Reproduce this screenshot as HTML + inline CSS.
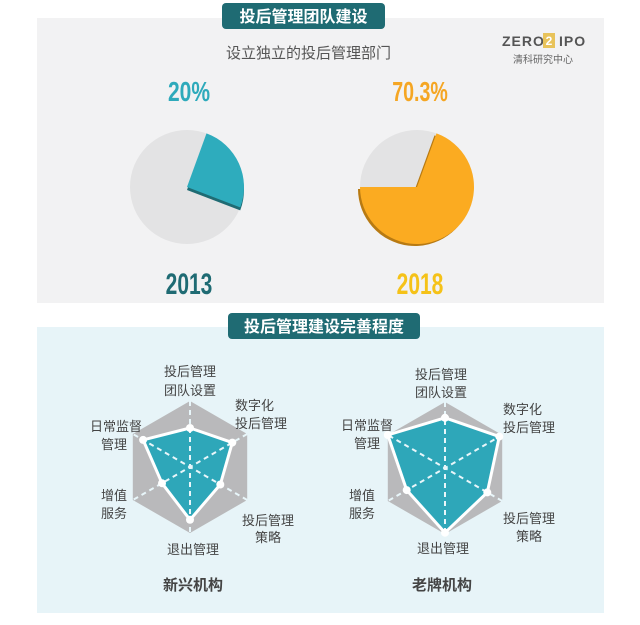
<!DOCTYPE html>
<html><head><meta charset="utf-8"><style>
body{margin:0;background:#fff;}
svg text{font-family:"Liberation Sans","Noto Sans CJK SC",sans-serif;}
</style></head><body>
<svg width="640" height="620" viewBox="0 0 640 620" xmlns="http://www.w3.org/2000/svg">
<rect x="37" y="18" width="567" height="285" fill="#f2f2f3"/>
<rect x="37" y="327" width="567" height="286" fill="#e7f4f8"/>
<rect x="222" y="3" width="163" height="26" rx="4" fill="#1f6b73"/>
<text x="303.5" y="22" font-size="16" font-weight="bold" fill="#fff" text-anchor="middle">投后管理团队建设</text>
<rect x="228" y="313" width="192" height="26" rx="4" fill="#1f6b73"/>
<text x="324" y="332" font-size="16" font-weight="bold" fill="#fff" text-anchor="middle">投后管理建设完善程度</text>
<text x="226" y="58" font-size="15" fill="#555">设立独立的投后管理部门</text>
<text x="502" y="46" font-size="14" font-weight="bold" fill="#555" letter-spacing="1">ZERO</text>
<rect x="543" y="33" width="12" height="15" fill="#e8c35a"/>
<text x="549" y="45" font-size="12" font-weight="bold" fill="#fff" text-anchor="middle">2</text>
<text x="559" y="46" font-size="14" font-weight="bold" fill="#555" letter-spacing="1">IPO</text>
<text x="543" y="63" font-size="10" fill="#666" text-anchor="middle">清科研究中心</text>
<text x="189" y="101" font-size="28" font-weight="bold" fill="#2eaabb" text-anchor="middle" transform="translate(189 0) scale(0.75 1) translate(-189 0)">20%</text>
<text x="420" y="101" font-size="28" font-weight="bold" fill="#f5a623" text-anchor="middle" transform="translate(420 0) scale(0.7 1) translate(-420 0)">70.3%</text>
<!-- left pie -->
<circle cx="187" cy="187" r="57" fill="#e3e3e4"/>
<path d="M187,187 L206.5,133.4 A57,57 0 0 1 240.2,207.4 Z" fill="#1f6b73" transform="translate(0,3)"/>
<path d="M187,187 L206.5,133.4 A57,57 0 0 1 240.2,207.4 Z" fill="#2eacbd"/>
<!-- right pie -->
<circle cx="417" cy="187" r="57" fill="#e3e3e4"/>
<path d="M417,187 L436.5,133.4 A57,57 0 1 1 360,187 Z" fill="#b87a12" transform="translate(-2,2)"/>
<path d="M417,187 L436.5,133.4 A57,57 0 1 1 360,187 Z" fill="#fbab21"/>
<text x="189" y="294" font-size="30" font-weight="bold" fill="#1f6b73" text-anchor="middle" transform="translate(189 0) scale(0.7 1) translate(-189 0)">2013</text>
<text x="420" y="294" font-size="30" font-weight="bold" fill="#f5c218" text-anchor="middle" transform="translate(420 0) scale(0.7 1) translate(-420 0)">2018</text>
<!-- left radar -->
<polygon points="190,401 247.2,434 247.2,500 190,533 132.8,500 132.8,434" fill="#b9b9bb"/>
<polygon points="190,428 232.3,442.6 220.3,484.5 190,519.8 162,483.2 143.1,439.9" fill="#2ea7b9" stroke="#fff" stroke-width="3" stroke-linejoin="round"/>
<g stroke="#e8f6fa" stroke-width="2" stroke-dasharray="5,4">
<line x1="190" y1="401" x2="190" y2="533"/><line x1="247.2" y1="434" x2="132.8" y2="500"/><line x1="247.2" y1="500" x2="132.8" y2="434"/>
</g>
<g fill="#fff"><circle cx="190" cy="428" r="4"/><circle cx="232.3" cy="442.6" r="4"/><circle cx="220.3" cy="484.5" r="4"/><circle cx="190" cy="519.8" r="4"/><circle cx="162" cy="483.2" r="4"/><circle cx="143.1" cy="439.9" r="4"/></g>
<!-- right radar -->
<polygon points="445,402 502.2,435 502.2,501 445,534 387.8,501 387.8,435" fill="#b9b9bb"/>
<polygon points="445,417.8 499.3,436.6 487.3,492.4 445,532.7 406.7,490.1 387.8,435" fill="#2ea7b9" stroke="#fff" stroke-width="3" stroke-linejoin="round"/>
<g stroke="#e8f6fa" stroke-width="2" stroke-dasharray="5,4">
<line x1="445" y1="402" x2="445" y2="534"/><line x1="502.2" y1="435" x2="387.8" y2="501"/><line x1="502.2" y1="501" x2="387.8" y2="435"/>
</g>
<g fill="#fff"><circle cx="445" cy="417.8" r="4"/><circle cx="499.3" cy="436.6" r="4"/><circle cx="487.3" cy="492.4" r="4"/><circle cx="445" cy="532.7" r="4"/><circle cx="406.7" cy="490.1" r="4"/><circle cx="387.8" cy="435" r="4"/></g>
<g font-size="13" fill="#444">
<text x="190" y="376" text-anchor="middle">投后管理</text><text x="190" y="395" text-anchor="middle">团队设置</text>
<text x="235" y="410">数字化</text><text x="235" y="428">投后管理</text>
<text x="142" y="431" text-anchor="end">日常监督</text><text x="127" y="449" text-anchor="end">管理</text>
<text x="127" y="500" text-anchor="end">增值</text><text x="127" y="518" text-anchor="end">服务</text>
<text x="242" y="525">投后管理</text><text x="255" y="542">策略</text>
<text x="193" y="554" text-anchor="middle">退出管理</text>
<text x="441" y="379" text-anchor="middle">投后管理</text><text x="441" y="397" text-anchor="middle">团队设置</text>
<text x="503" y="414">数字化</text><text x="503" y="432">投后管理</text>
<text x="393" y="430" text-anchor="end">日常监督</text><text x="380" y="448" text-anchor="end">管理</text>
<text x="375" y="500" text-anchor="end">增值</text><text x="375" y="518" text-anchor="end">服务</text>
<text x="503" y="523">投后管理</text><text x="516" y="541">策略</text>
<text x="443" y="553" text-anchor="middle">退出管理</text>
</g>
<text x="193" y="590" font-size="15" font-weight="bold" fill="#444" text-anchor="middle">新兴机构</text>
<text x="442" y="590" font-size="15" font-weight="bold" fill="#444" text-anchor="middle">老牌机构</text>
</svg>
</body></html>
